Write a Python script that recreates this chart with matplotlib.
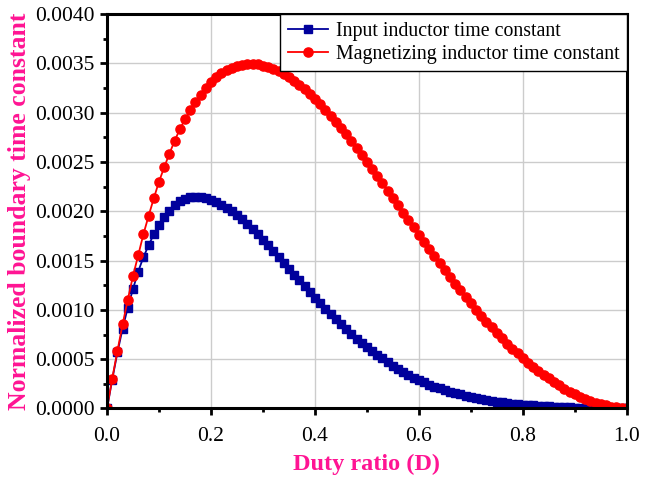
import matplotlib
matplotlib.use("Agg")
import matplotlib.pyplot as plt
from matplotlib.ticker import MultipleLocator, FormatStrFormatter

# duty ratio, step 0.01
duty = [i / 100 for i in range(101)]

# input inductor time constant (blue squares)
tau_input = [
    0.0, 0.000294, 0.000568, 0.000811, 0.001024, 0.001213, 0.001389, 0.001534, 0.001655, 0.001767,
    0.001861, 0.001943, 0.002007, 0.002061, 0.002101, 0.002128, 0.002145, 0.002149, 0.002145, 0.002132,
    0.002111, 0.002090, 0.002064, 0.002034, 0.001999, 0.001960, 0.001917, 0.001870, 0.001820, 0.001767,
    0.001712, 0.001655, 0.001597, 0.001538, 0.001478, 0.001418, 0.001358, 0.001298, 0.001239, 0.001180,
    0.001122, 0.001065, 0.001010, 0.000956, 0.000903, 0.000852, 0.000802, 0.000754, 0.000708, 0.000664,
    0.000622, 0.000582, 0.000544, 0.000508, 0.000474, 0.000430, 0.000398, 0.000368, 0.000340, 0.000313,
    0.000288, 0.000265, 0.000243, 0.000223, 0.000204, 0.000187, 0.000171, 0.000156, 0.000142, 0.000129,
    0.000117, 0.000106, 0.000096, 0.000087, 0.000078, 0.000070, 0.000063, 0.000056, 0.000050, 0.000045,
    0.000040, 0.000035, 0.000031, 0.000027, 0.000024, 0.000021, 0.000018, 0.000015, 0.000013, 0.000011,
    0.000009, 0.000007, 0.000006, 0.000004, 0.000003, 0.000002, 0.000001, 0.000001, 0.0, 0.0,
    0.0,
]

# magnetizing inductor time constant (red circles)
tau_mag = [
    0.0, 0.000304, 0.000584, 0.000855, 0.001105, 0.001345, 0.001554, 0.001767, 0.001953, 0.002132,
    0.002300, 0.002446, 0.002584, 0.002713, 0.002831, 0.002932, 0.003024, 0.003108, 0.003182, 0.003250,
    0.003310, 0.003357, 0.003398, 0.003430, 0.003456, 0.003474, 0.003486, 0.003493, 0.003495, 0.003490,
    0.003476, 0.003462, 0.003443, 0.003420, 0.003392, 0.003360, 0.003324, 0.003284, 0.003240, 0.003193,
    0.003140, 0.003086, 0.003029, 0.002970, 0.002908, 0.002844, 0.002779, 0.002712, 0.002643, 0.002573,
    0.002502, 0.002430, 0.002357, 0.002284, 0.002210, 0.002136, 0.002061, 0.001987, 0.001912, 0.001838,
    0.001764, 0.001690, 0.001617, 0.001545, 0.001473, 0.001402, 0.001333, 0.001264, 0.001197, 0.001131,
    0.001066, 0.001003, 0.000941, 0.000881, 0.000823, 0.000766, 0.000711, 0.000658, 0.000607, 0.000558,
    0.000511, 0.000466, 0.000423, 0.000382, 0.000343, 0.000306, 0.000272, 0.000239, 0.000200, 0.000170,
    0.000143, 0.000118, 0.000096, 0.000076, 0.000059, 0.000044, 0.000031, 0.000020, 0.000011, 0.000004,
    0.0,
]

label_input = "Input inductor time constant"
label_mag = "Magnetizing inductor time constant"
pink = "#FF1493"

plt.rcParams["font.family"] = ["Liberation Serif", "DejaVu Serif"]

fig = plt.figure(figsize=(6.55, 4.78), dpi=100)
ax = fig.add_axes([0.1634, 0.1454, 0.7935, 0.8253])

ax.plot(duty, tau_input, color="#00009C", marker="s", markersize=6, linewidth=1.3, label=label_input)
ax.plot(duty, tau_mag, color="#FF0000", marker="o", markersize=6.6, linewidth=1.3, label=label_mag)

ax.set_xlim(0, 1)
ax.set_ylim(0, 0.004)
ax.xaxis.set_major_locator(MultipleLocator(0.2))
ax.xaxis.set_minor_locator(MultipleLocator(0.1))
ax.yaxis.set_major_locator(MultipleLocator(0.0005))
ax.yaxis.set_minor_locator(MultipleLocator(0.00025))
ax.xaxis.set_major_formatter(FormatStrFormatter("%.1f"))
ax.yaxis.set_major_formatter(FormatStrFormatter("%.4f"))

ax.grid(True, which="major", color="#cccccc", linewidth=1.0)
ax.set_axisbelow(True)

for s in ax.spines.values():
    s.set_linewidth(2.2)
ax.tick_params(which="major", direction="out", length=5, width=2, labelsize=15.5, pad=4)
ax.tick_params(axis="x", which="major", pad=8)
ax.tick_params(which="minor", direction="out", length=3, width=2)

ax.set_xlabel("Duty ratio (D)", fontsize=17.5, fontweight="bold", color=pink, labelpad=6)
ax.set_ylabel("Normalized boundary time constant", fontsize=18.5, fontweight="bold", color=pink, labelpad=3)

leg = ax.legend(loc="upper right", borderaxespad=0, fontsize=14.3, fancybox=False,
                framealpha=1, edgecolor="black", handlelength=2.0, handletextpad=0.4,
                borderpad=0.38, labelspacing=0.2)
leg.get_frame().set_linewidth(1.0)

fig.savefig("out.png", dpi=100)
